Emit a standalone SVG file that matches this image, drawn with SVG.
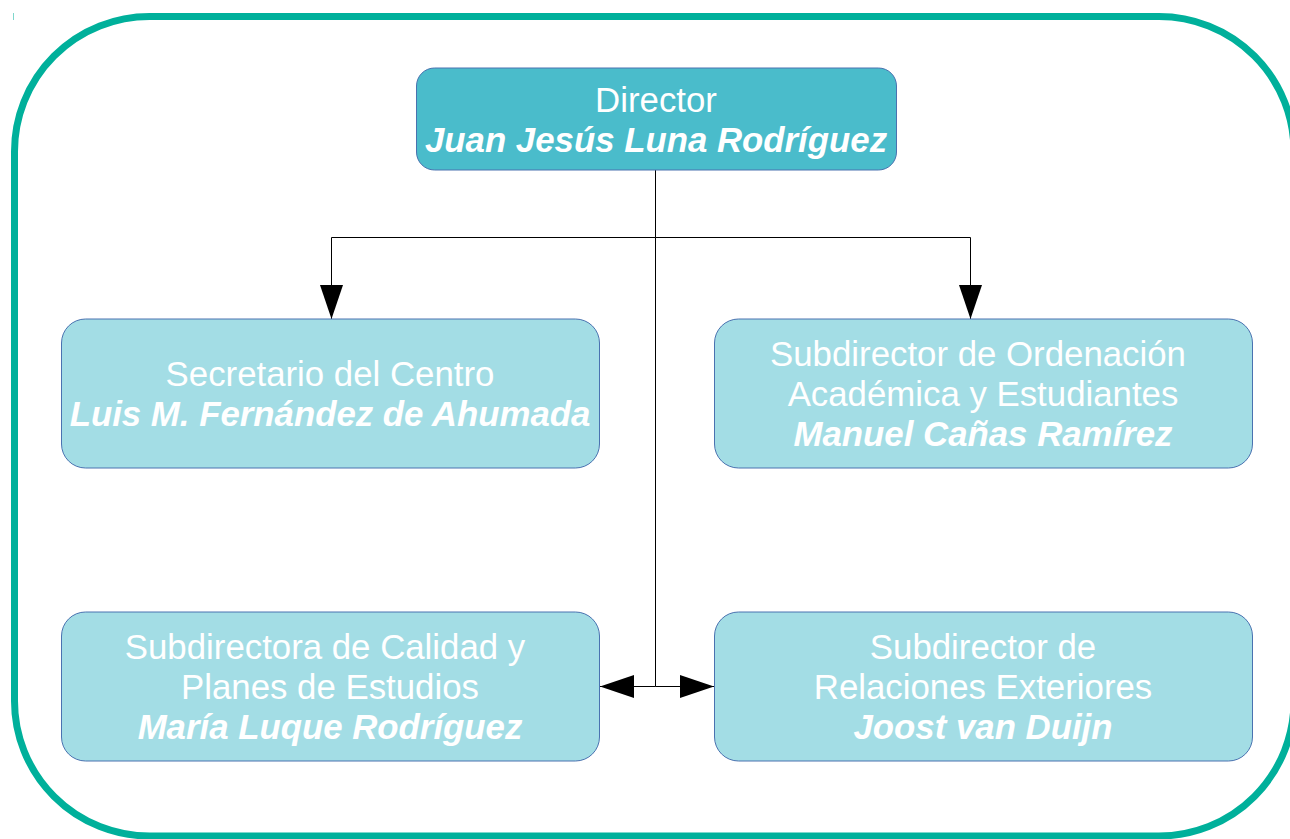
<svg xmlns="http://www.w3.org/2000/svg" width="1290" height="839" viewBox="0 0 1290 839">
<defs>
<style>
.t{font-family:"Liberation Sans",Arial,sans-serif;font-size:34.8px;fill:#ffffff;text-anchor:middle}
.b{font-weight:bold;font-style:italic}
.box{fill:#a3dde5;stroke:#4a72b0;stroke-width:1}
.dir{fill:#4abccb;stroke:#4a72b0;stroke-width:1}
.c{fill:none;stroke:#000;stroke-width:1}
</style>
<marker id="ah" markerUnits="userSpaceOnUse" markerWidth="34" markerHeight="23" refX="34" refY="11.5" orient="auto" viewBox="0 0 34 23">
<path d="M0,0 L34,11.5 L0,23 z" fill="#000"/>
</marker>
</defs>
<rect x="0" y="0" width="1290" height="839" fill="#ffffff"/>
<rect x="14.5" y="16.5" width="1279.5" height="819.5" rx="135" ry="135" fill="none" stroke="#00b09b" stroke-width="7"/>
<line x1="13.5" y1="13" x2="13.5" y2="20" stroke="#7fd7cc" stroke-width="1"/>
<g id="connectors">
<polyline class="c" points="655.5,170 655.5,237.5 331.5,237.5 331.5,319" marker-end="url(#ah)"/>
<polyline class="c" points="655.5,237.5 970.5,237.5 970.5,319" marker-end="url(#ah)"/>
<line class="c" x1="655.5" y1="237.5" x2="655.5" y2="686.5"/>
<line class="c" x1="655.5" y1="686.5" x2="600" y2="686.5" marker-end="url(#ah)"/>
<line class="c" x1="655.5" y1="686.5" x2="714" y2="686.5" marker-end="url(#ah)"/>
</g>
<g id="director">
<rect class="dir" x="416.5" y="68" width="480" height="102" rx="18"/>
<text class="t" x="656" y="112">Director</text>
<text class="t b" x="656" y="152">Juan Jesús Luna Rodríguez</text>
</g>
<g id="secretario">
<rect class="box" x="61.5" y="319" width="538" height="149" rx="24"/>
<text class="t" x="330" y="386">Secretario del Centro</text>
<text class="t b" x="330" y="426">Luis M. Fernández de Ahumada</text>
</g>
<g id="ordenacion">
<rect class="box" x="714.5" y="319" width="538" height="149" rx="24"/>
<text class="t" x="978" y="366">Subdirector de Ordenación</text>
<text class="t" x="983" y="406">Académica y Estudiantes</text>
<text class="t b" x="983" y="446">Manuel Cañas Ramírez</text>
</g>
<g id="calidad">
<rect class="box" x="61.5" y="612" width="538" height="149" rx="24"/>
<text class="t" x="325" y="659">Subdirectora de Calidad y</text>
<text class="t" x="330" y="699">Planes de Estudios</text>
<text class="t b" x="330" y="739">María Luque Rodríguez</text>
</g>
<g id="exteriores">
<rect class="box" x="714.5" y="612" width="538" height="149" rx="24"/>
<text class="t" x="983" y="659">Subdirector de</text>
<text class="t" x="983" y="699">Relaciones Exteriores</text>
<text class="t b" x="983" y="739">Joost van Duijn</text>
</g>
</svg>
